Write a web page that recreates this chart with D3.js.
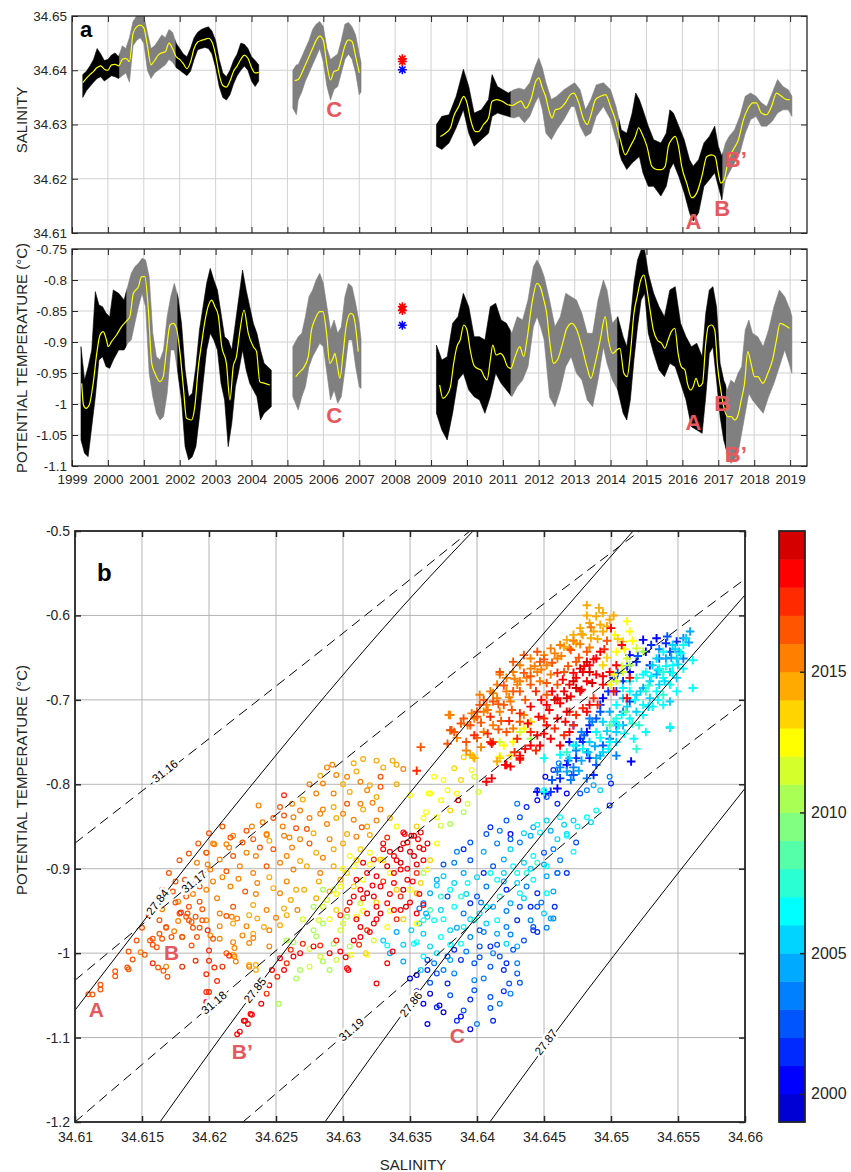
<!DOCTYPE html>
<html><head><meta charset="utf-8">
<script src="https://cdn.jsdelivr.net/npm/d3@7"></script>
<style>
body{margin:0;background:#fff;}
svg text{font-family:"Liberation Sans",Arial,Helvetica,sans-serif;}
</style></head><body>
<svg id="fig" width="851" height="1172"></svg>
<script>
// ===================== DATA =====================
const yearTicks = [1999,2000,2001,2002,2003,2004,2005,2006,2007,2008,2009,2010,2011,2012,2013,2014,2015,2016,2017,2018,2019];
const salTicks = [34.61,34.62,34.63,34.64,34.65];
const tmpTicks = [-1.1,-1.05,-1,-0.95,-0.9,-0.85,-0.8,-0.75];
const tsSalTicks = [34.61,34.615,34.62,34.625,34.63,34.635,34.64,34.645,34.65,34.655,34.66];
const tsTmpTicks = [-1.2,-1.1,-1,-0.9,-0.8,-0.7,-0.6,-0.5];
const cbTicks = [2000,2005,2010,2015];
const cbYears = [1999,2000,2001,2002,2003,2004,2005,2006,2007,2008,2009,2010,2011,2012,2013,2014,2015,2016,2017,2018,2019];

// salinity: smoothed (yellow) series per deployment section [year, S]
const salSmooth1 = [[1999.3,34.6377],[1999.4,34.6385],[1999.5,34.6392],[1999.6,34.6398],[1999.7,34.6405],[1999.8,34.6408],[1999.9,34.6402],[2000.0,34.6400],[2000.1,34.6410],[2000.2,34.6411],[2000.3,34.6408],[2000.4,34.6420],[2000.5,34.6422],[2000.6,34.6416],[2000.7,34.6468],[2000.8,34.6480],[2000.9,34.6483],[2001.0,34.6478],[2001.1,34.6445],[2001.2,34.6410],[2001.3,34.6418],[2001.4,34.6428],[2001.5,34.6432],[2001.6,34.6434],[2001.7,34.6450],[2001.8,34.6440],[2001.9,34.6425],[2002.0,34.6420],[2002.1,34.6412],[2002.2,34.6403],[2002.3,34.6415],[2002.4,34.6440],[2002.5,34.6452],[2002.6,34.6455],[2002.7,34.6457],[2002.8,34.6459],[2002.9,34.6452],[2003.0,34.6428],[2003.1,34.6392],[2003.2,34.6372],[2003.3,34.6369],[2003.4,34.6380],[2003.5,34.6398],[2003.6,34.6408],[2003.7,34.6420],[2003.8,34.6428],[2003.9,34.6422],[2004.0,34.6405],[2004.1,34.6395],[2004.2,34.6396]];
const salSmooth2 = [[2005.2,34.6381],[2005.3,34.6383],[2005.4,34.6395],[2005.5,34.6410],[2005.6,34.6425],[2005.7,34.6440],[2005.8,34.6455],[2005.9,34.6463],[2006.0,34.6455],[2006.1,34.6410],[2006.2,34.6382],[2006.3,34.6398],[2006.4,34.6400],[2006.5,34.6420],[2006.6,34.6445],[2006.7,34.6456],[2006.8,34.6453],[2006.9,34.6425],[2007.0,34.6395]];
const salSmooth3 = [[2009.26,34.6278],[2009.40,34.6284],[2009.54,34.6294],[2009.63,34.6315],[2009.77,34.6333],[2009.91,34.6352],[2010.00,34.6340],[2010.10,34.6309],[2010.23,34.6287],[2010.32,34.6287],[2010.46,34.6300],[2010.60,34.6312],[2010.70,34.6343],[2010.83,34.6346],[2010.98,34.6343],[2011.12,34.6337],[2011.26,34.6335],[2011.40,34.6340],[2011.50,34.6343],[2011.64,34.6330],[2011.78,34.6346],[2011.92,34.6380],[2012.00,34.6386],[2012.10,34.6367],[2012.19,34.6352],[2012.28,34.6327],[2012.37,34.6312],[2012.46,34.6327],[2012.60,34.6330],[2012.74,34.6340],[2012.88,34.6355],[2012.98,34.6358],[2013.11,34.6340],[2013.25,34.6309],[2013.35,34.6300],[2013.44,34.6315],[2013.58,34.6346],[2013.72,34.6352],[2013.86,34.6355],[2014.00,34.6333],[2014.13,34.6309],[2014.27,34.6272],[2014.41,34.6244],[2014.55,34.6260],[2014.69,34.6278],[2014.78,34.6294],[2014.87,34.6284],[2015.01,34.6260],[2015.15,34.6223],[2015.29,34.6217],[2015.43,34.6217],[2015.52,34.6223],[2015.61,34.6260],[2015.70,34.6272],[2015.80,34.6278],[2015.89,34.6260],[2015.98,34.6223],[2016.12,34.6192],[2016.26,34.6165],[2016.40,34.6174],[2016.54,34.6204],[2016.68,34.6241],[2016.81,34.6244],[2016.91,34.6241],[2017.00,34.6211],[2017.07,34.6192],[2017.16,34.6198],[2017.28,34.6235],[2017.42,34.6254],[2017.56,34.6272],[2017.70,34.6309],[2017.83,34.6330],[2017.97,34.6340],[2018.06,34.6340],[2018.20,34.6321],[2018.34,34.6318],[2018.48,34.6333],[2018.62,34.6358],[2018.76,34.6352],[2018.90,34.6346],[2018.99,34.6346]];
// salinity: raw-data envelope [year, max, min]
const salBand1 = [[1999.3,34.6392,34.6350],[1999.4,34.6398,34.6362],[1999.5,34.6408,34.6370],[1999.6,34.6420,34.6378],[1999.7,34.6440,34.6385],[1999.8,34.6430,34.6388],[1999.9,34.6418,34.6380],[2000.0,34.6420,34.6385],[2000.1,34.6428,34.6390],[2000.2,34.6432,34.6388],[2000.3,34.6425,34.6385],[2000.4,34.6445,34.6390],[2000.5,34.6440,34.6395],[2000.6,34.6460,34.6378],[2000.7,34.6490,34.6445],[2000.8,34.6500,34.6455],[2000.9,34.6500,34.6460],[2001.0,34.6500,34.6450],[2001.1,34.6470,34.6400],[2001.2,34.6440,34.6385],[2001.3,34.6445,34.6395],[2001.4,34.6455,34.6400],[2001.5,34.6465,34.6405],[2001.6,34.6460,34.6410],[2001.7,34.6475,34.6420],[2001.8,34.6470,34.6415],[2001.9,34.6450,34.6405],[2002.0,34.6440,34.6400],[2002.1,34.6430,34.6395],[2002.2,34.6425,34.6390],[2002.3,34.6440,34.6398],[2002.4,34.6460,34.6420],[2002.5,34.6470,34.6438],[2002.6,34.6475,34.6440],[2002.7,34.6478,34.6442],[2002.8,34.6480,34.6440],[2002.9,34.6472,34.6430],[2003.0,34.6455,34.6405],[2003.1,34.6420,34.6370],[2003.2,34.6395,34.6350],[2003.3,34.6388,34.6345],[2003.4,34.6400,34.6355],[2003.5,34.6418,34.6375],[2003.6,34.6430,34.6390],[2003.7,34.6450,34.6400],[2003.8,34.6448,34.6408],[2003.9,34.6440,34.6400],[2004.0,34.6425,34.6380],[2004.1,34.6418,34.6370],[2004.2,34.6410,34.6380]];
const salBand2 = [[2005.15,34.6400,34.6330],[2005.25,34.6410,34.6318],[2005.3,34.6410,34.6345],[2005.4,34.6425,34.6360],[2005.5,34.6440,34.6380],[2005.6,34.6455,34.6395],[2005.7,34.6475,34.6410],[2005.8,34.6485,34.6425],[2005.9,34.6490,34.6440],[2006.0,34.6480,34.6415],[2006.1,34.6440,34.6370],[2006.2,34.6420,34.6345],[2006.3,34.6425,34.6365],[2006.4,34.6430,34.6370],[2006.5,34.6455,34.6395],[2006.6,34.6485,34.6420],[2006.7,34.6488,34.6430],[2006.8,34.6480,34.6420],[2006.9,34.6465,34.6395],[2007.0,34.6430,34.6355],[2007.05,34.6415,34.6360]];
const salBand3 = [[2009.15,34.6300,34.6260],[2009.3,34.6315,34.6254],[2009.5,34.6318,34.6266],[2009.7,34.6352,34.6294],[2009.9,34.6402,34.6327],[2010.05,34.6370,34.6284],[2010.2,34.6321,34.6260],[2010.4,34.6327,34.6272],[2010.6,34.6346,34.6284],[2010.7,34.6392,34.6315],[2010.85,34.6370,34.6321],[2011.0,34.6364,34.6318],[2011.15,34.6358,34.6315],[2011.3,34.6364,34.6312],[2011.45,34.6367,34.6315],[2011.6,34.6364,34.6303],[2011.75,34.6377,34.6315],[2011.9,34.6407,34.6340],[2012.0,34.6423,34.6352],[2012.1,34.6404,34.6327],[2012.2,34.6377,34.6284],[2012.35,34.6346,34.6272],[2012.5,34.6352,34.6290],[2012.7,34.6364,34.6309],[2012.9,34.6373,34.6333],[2013.0,34.6377,34.6333],[2013.15,34.6364,34.6297],[2013.3,34.6327,34.6278],[2013.45,34.6346,34.6284],[2013.6,34.6373,34.6315],[2013.8,34.6377,34.6333],[2014.0,34.6364,34.6309],[2014.15,34.6333,34.6272],[2014.3,34.6290,34.6235],[2014.45,34.6284,34.6217],[2014.6,34.6321,34.6229],[2014.7,34.6358,34.6235],[2014.8,34.6346,34.6241],[2014.9,34.6327,34.6211],[2015.05,34.6297,34.6186],[2015.2,34.6272,34.6186],[2015.4,34.6266,34.6168],[2015.55,34.6284,34.6186],[2015.65,34.6327,34.6217],[2015.75,34.6321,34.6229],[2015.9,34.6297,34.6204],[2016.05,34.6272,34.6174],[2016.2,34.6235,34.6137],[2016.3,34.6223,34.6122],[2016.45,34.6235,34.6137],[2016.6,34.6266,34.6186],[2016.75,34.6278,34.6198],[2016.9,34.6297,34.6211],[2017.0,34.6260,34.6186],[2017.1,34.6241,34.6161],[2017.2,34.6266,34.6198],[2017.3,34.6278,34.6211],[2017.45,34.6290,34.6229],[2017.6,34.6315,34.6247],[2017.75,34.6352,34.6284],[2017.9,34.6358,34.6309],[2018.05,34.6352,34.6315],[2018.2,34.6340,34.6297],[2018.35,34.6333,34.6297],[2018.5,34.6358,34.6306],[2018.65,34.6383,34.6321],[2018.8,34.6370,34.6327],[2018.95,34.6364,34.6327],[2019.05,34.6352,34.6315]];
// which instrument recorded each stretch: [start, end, instrument id]
const salSegments = [[1999.25,2000.3,1],[2000.3,2001.9,2],[2001.9,2004.25,1],[2005.1,2007.1,2],[2009.1,2011.2,1],[2011.2,2014.25,2],[2014.25,2017.1,1],[2017.1,2019.1,2]];

// potential temperature
const tmpSmooth1 = [[1999.27,-0.9667],[1999.32,-1.0016],[1999.39,-1.007],[1999.48,-1.0016],[1999.59,-0.9667],[1999.69,-0.9183],[1999.78,-0.8887],[1999.87,-0.8833],[1999.96,-0.8968],[2000.01,-0.9075],[2000.10,-0.8995],[2000.24,-0.8887],[2000.38,-0.8753],[2000.52,-0.8661],[2000.61,-0.8591],[2000.71,-0.8215],[2000.85,-0.8107],[2000.94,-0.7946],[2001.03,-0.7946],[2001.12,-0.843],[2001.22,-0.9344],[2001.31,-0.9505],[2001.45,-0.964],[2001.54,-0.9559],[2001.63,-0.9129],[2001.73,-0.8726],[2001.82,-0.8699],[2001.91,-0.878],[2002.01,-0.9183],[2002.10,-0.972],[2002.19,-1.0231],[2002.33,-1.0258],[2002.42,-1.0043],[2002.52,-0.9398],[2002.61,-0.9021],[2002.70,-0.8672],[2002.79,-0.843],[2002.89,-0.8323],[2002.98,-0.843],[2003.07,-0.8564],[2003.17,-0.9075],[2003.30,-0.9344],[2003.40,-0.9935],[2003.49,-0.9398],[2003.58,-0.9236],[2003.68,-0.8806],[2003.79,-0.8484],[2003.91,-0.886],[2004.05,-0.9075],[2004.14,-0.9156],[2004.23,-0.964],[2004.37,-0.9667],[2004.51,-0.9693]];
const tmpSmooth2 = [[2005.23,-0.9559],[2005.35,-0.9478],[2005.44,-0.9425],[2005.58,-0.9236],[2005.67,-0.8806],[2005.76,-0.8645],[2005.90,-0.851],[2005.99,-0.851],[2006.09,-0.886],[2006.18,-0.9344],[2006.27,-0.9263],[2006.32,-0.9183],[2006.38,-0.9344],[2006.46,-0.9586],[2006.55,-0.9183],[2006.64,-0.8726],[2006.76,-0.8538],[2006.83,-0.8564],[2006.92,-0.886],[2006.97,-0.9156]];
const tmpSmooth3 = [[2009.24,-0.9693],[2009.33,-0.9908],[2009.44,-0.9855],[2009.54,-0.972],[2009.63,-0.9344],[2009.72,-0.9075],[2009.81,-0.8968],[2009.91,-0.8726],[2010.00,-0.8806],[2010.09,-0.9129],[2010.19,-0.9371],[2010.28,-0.9425],[2010.39,-0.9452],[2010.48,-0.9559],[2010.56,-0.9613],[2010.65,-0.929],[2010.72,-0.9048],[2010.81,-0.9209],[2010.93,-0.9183],[2011.02,-0.9236],[2011.13,-0.9398],[2011.22,-0.9425],[2011.34,-0.9236],[2011.47,-0.9075],[2011.58,-0.9236],[2011.67,-0.8968],[2011.81,-0.8376],[2011.95,-0.8054],[2012.04,-0.8107],[2012.13,-0.8296],[2012.22,-0.8538],[2012.31,-0.9021],[2012.41,-0.9344],[2012.52,-0.929],[2012.64,-0.9075],[2012.78,-0.878],[2012.92,-0.8699],[2013.06,-0.8806],[2013.20,-0.9075],[2013.34,-0.9398],[2013.45,-0.9586],[2013.57,-0.9344],[2013.71,-0.8968],[2013.85,-0.8591],[2013.94,-0.8968],[2014.06,-0.9183],[2014.17,-0.9129],[2014.26,-0.9102],[2014.37,-0.9505],[2014.46,-0.9559],[2014.56,-0.9129],[2014.65,-0.8538],[2014.74,-0.8269],[2014.84,-0.8],[2014.93,-0.7919],[2015.00,-0.8107],[2015.10,-0.8484],[2015.19,-0.8806],[2015.30,-0.8968],[2015.42,-0.9021],[2015.51,-0.9102],[2015.60,-0.8968],[2015.69,-0.8833],[2015.79,-0.878],[2015.88,-0.9183],[2015.97,-0.9398],[2016.07,-0.9452],[2016.14,-0.9667],[2016.23,-0.9774],[2016.30,-0.972],[2016.38,-0.9586],[2016.47,-0.972],[2016.56,-0.9667],[2016.65,-0.9021],[2016.72,-0.8753],[2016.81,-0.8726],[2016.90,-0.8806],[2016.98,-0.9398],[2017.07,-0.9774],[2017.15,-1.0043],[2017.27,-1.0204],[2017.36,-1.0204],[2017.46,-1.0258],[2017.55,-1.0177],[2017.64,-0.9935],[2017.73,-0.9667],[2017.82,-0.9156],[2017.91,-0.9344],[2018.01,-0.9559],[2018.10,-0.9559],[2018.24,-0.9667],[2018.38,-0.9505],[2018.51,-0.929],[2018.62,-0.8968],[2018.72,-0.8699],[2018.84,-0.8726],[2018.98,-0.878]];
const tmpBand1 = [[1999.25,-0.9075,-1.058],[1999.35,-0.9613,-1.0796],[1999.45,-0.9398,-1.0849],[1999.55,-0.9129,-1.0365],[1999.65,-0.8188,-0.9882],[1999.75,-0.8403,-0.929],[1999.85,-0.843,-0.9236],[1999.95,-0.8538,-0.9398],[2000.05,-0.8591,-0.9425],[2000.15,-0.8161,-0.929],[2000.3,-0.8215,-0.9129],[2000.45,-0.8323,-0.9129],[2000.55,-0.8107,-0.9021],[2000.65,-0.7892,-0.8968],[2000.75,-0.7785,-0.8699],[2000.85,-0.7731,-0.843],[2000.95,-0.7651,-0.8215],[2001.05,-0.7677,-0.843],[2001.15,-0.7946,-0.9505],[2001.25,-0.886,-0.9882],[2001.35,-0.9236,-1.015],[2001.45,-0.929,-1.0258],[2001.55,-0.9129,-1.0204],[2001.65,-0.8591,-0.9828],[2001.75,-0.8269,-0.9129],[2001.85,-0.8054,-0.9129],[2001.95,-0.8269,-0.9505],[2002.05,-0.8699,-0.9935],[2002.15,-0.9452,-1.0688],[2002.25,-0.9882,-1.0903],[2002.35,-0.9828,-1.0849],[2002.45,-0.9398,-1.0688],[2002.55,-0.8806,-1.0204],[2002.65,-0.843,-0.9667],[2002.75,-0.8054,-0.9129],[2002.85,-0.7812,-0.886],[2002.95,-0.8,-0.8968],[2003.05,-0.8161,-0.9129],[2003.15,-0.8538,-0.9667],[2003.25,-0.8914,-0.9935],[2003.35,-0.8968,-1.0688],[2003.45,-0.9129,-1.0312],[2003.55,-0.8699,-0.972],[2003.65,-0.8269,-0.9452],[2003.75,-0.7839,-0.9129],[2003.85,-0.8161,-0.9452],[2003.95,-0.843,-0.9667],[2004.05,-0.8699,-0.9774],[2004.15,-0.886,-0.9882],[2004.25,-0.9129,-1.0258],[2004.35,-0.9344,-1.015],[2004.45,-0.9398,-1.0097],[2004.55,-0.9452,-1.0043]];
const tmpBand2 = [[2005.15,-0.9075,-0.9882],[2005.3,-0.8914,-1.0097],[2005.4,-0.886,-0.9882],[2005.5,-0.8591,-0.972],[2005.6,-0.8269,-0.9398],[2005.7,-0.8161,-0.9236],[2005.8,-0.8,-0.9129],[2005.9,-0.7892,-0.9021],[2006.0,-0.8054,-0.9075],[2006.1,-0.843,-0.9505],[2006.2,-0.8806,-0.9935],[2006.3,-0.8645,-0.9774],[2006.4,-0.886,-0.9989],[2006.5,-0.8753,-0.9882],[2006.6,-0.8269,-0.9452],[2006.7,-0.8054,-0.8968],[2006.8,-0.8107,-0.8968],[2006.9,-0.8376,-0.9398],[2007.0,-0.8699,-0.972],[2007.05,-0.895,-0.975]];
const tmpBand3 = [[2009.15,-0.9048,-1.015],[2009.3,-0.929,-1.0419],[2009.45,-0.9236,-1.058],[2009.6,-0.8699,-1.015],[2009.75,-0.8591,-0.9613],[2009.9,-0.8215,-0.9505],[2010.05,-0.843,-0.9774],[2010.2,-0.8914,-0.9882],[2010.35,-0.8914,-0.9935],[2010.5,-0.8968,-1.015],[2010.65,-0.843,-0.9882],[2010.8,-0.8376,-0.9505],[2010.95,-0.8645,-0.9667],[2011.1,-0.8699,-0.9774],[2011.25,-0.886,-0.9882],[2011.4,-0.8591,-0.972],[2011.55,-0.8645,-0.9613],[2011.7,-0.8323,-0.9398],[2011.85,-0.7785,-0.8753],[2011.95,-0.7677,-0.8591],[2012.05,-0.7785,-0.8753],[2012.15,-0.7946,-0.8968],[2012.3,-0.8323,-0.9882],[2012.45,-0.8753,-1.0043],[2012.6,-0.8591,-0.9774],[2012.75,-0.8215,-0.9398],[2012.9,-0.8269,-0.9236],[2013.05,-0.8323,-0.9505],[2013.2,-0.8538,-0.9613],[2013.35,-0.886,-0.9935],[2013.5,-0.886,-1.0043],[2013.65,-0.8323,-0.9613],[2013.8,-0.8,-0.9075],[2013.9,-0.8161,-0.9344],[2014.05,-0.8699,-0.9613],[2014.2,-0.8591,-0.9774],[2014.35,-0.8914,-1.015],[2014.45,-0.9075,-1.0258],[2014.55,-0.8645,-0.9935],[2014.65,-0.8054,-0.929],[2014.75,-0.7677,-0.8753],[2014.85,-0.7516,-0.8323],[2014.95,-0.7516,-0.8215],[2015.05,-0.7892,-0.886],[2015.2,-0.8215,-0.9183],[2015.35,-0.843,-0.9452],[2015.5,-0.8591,-0.9559],[2015.65,-0.8161,-0.9344],[2015.8,-0.8107,-0.9398],[2015.95,-0.8699,-0.9667],[2016.1,-0.8914,-0.9935],[2016.25,-0.9075,-1.0365],[2016.4,-0.9021,-1.0419],[2016.55,-0.9236,-1.0473],[2016.65,-0.8538,-0.9882],[2016.75,-0.8161,-0.9183],[2016.85,-0.8107,-0.9075],[2016.95,-0.843,-0.9613],[2017.05,-0.9344,-1.0204],[2017.15,-0.9613,-1.058],[2017.25,-0.9774,-1.0796],[2017.35,-0.9613,-1.0957],[2017.45,-0.9667,-1.0903],[2017.55,-0.9505,-1.0796],[2017.65,-0.9398,-1.0473],[2017.75,-0.8806,-1.015],[2017.85,-0.8645,-0.9828],[2017.95,-0.886,-0.9935],[2018.1,-0.8914,-1.0043],[2018.25,-0.9075,-1.015],[2018.4,-0.8806,-0.9882],[2018.55,-0.843,-0.9667],[2018.7,-0.8161,-0.9398],[2018.85,-0.8269,-0.9129],[2019.0,-0.8484,-0.9398],[2019.05,-0.8591,-0.9505]];
const tmpSegments = [[1999.2,2000.5,1],[2000.5,2001.95,2],[2001.95,2004.6,1],[2005.1,2007.1,2],[2009.1,2011.2,1],[2011.2,2014.2,2],[2014.2,2017.2,1],[2017.2,2019.1,2]];

// 2008 CTD casts
const ctdYear = 2008.2;
const ctdSalRed = [34.6416,34.6421], ctdSalBlue = [34.6401];
const ctdTmpRed = [-0.849,-0.843], ctdTmpBlue = [-0.873];

// event labels [text, x value, y value]
const salEvents = [["A",2016.31,34.6121],["B",2017.11,34.6146],["B\u2019",2017.18,34.6236],["C",2006.30,34.6328]];
const tmpEvents = [["A",2016.31,-1.0298],["B",2017.11,-0.9984],["B\u2019",2017.18,-1.0818],["C",2006.30,-1.0186]];
const tsEvents = [["A",34.6116,-1.0664],["B",34.6172,-0.9995],["B\u2019",34.6217,-1.117],["C",34.63853,-1.0972]];

// isopycnals in theta-S space (sigma0 solid, sigma2 dashed)
const sigma0Levels = ["27.84","27.85","27.86","27.87"];
const sigma0Lines = [
 [[34.61,-1.0676],[34.62106,-0.8425],[34.63648,-0.5542],[34.63971,-0.5]],
 [[34.61634,-1.2],[34.62244,-1.0656],[34.63648,-0.7812],[34.65165,-0.5]],
 [[34.62865,-1.2],[34.634,-1.0815],[34.64693,-0.8188],[34.66,-0.5758]],
 [[34.64096,-1.2],[34.64432,-1.1269],[34.66,-0.8049]]];
const sigma0LabelAt = [[34.61615,-0.9396],[34.62343,-1.0439],[34.63507,-1.0605],[34.64514,-1.1055]];
const sigma2Levels = ["31.16","31.17","31.18","31.19"];
const sigma2Lines = [
 [[34.61,-0.8697],[34.63648,-0.5385],[34.63947,-0.5]],
 [[34.61,-1.0321],[34.6233,-0.8582],[34.63648,-0.6904],[34.65215,-0.5]],
 [[34.61,-1.2],[34.62356,-1.0163],[34.63997,-0.799],[34.66,-0.5569]],
 [[34.62253,-1.2],[34.634,-1.0439],[34.65041,-0.8188],[34.66,-0.7023]]];
const sigma2LabelAt = [[34.61671,-0.7844],[34.61888,-0.9153],[34.62037,-1.0587],[34.63063,-1.0907]];

// theta-S points, lower instrument (circles): [S, theta, year]
const circlePts = [
[34.6288,-0.780,2015],[34.6292,-0.777,2015],[34.6308,-0.775,2014],[34.6315,-0.770,2014],[34.6325,-0.772,2014],[34.6337,-0.772,2014],[34.6340,-0.777,2014],[34.6345,-0.782,2015],[34.6328,-0.791,2016],[34.6320,-0.801,2014],[34.6313,-0.797,2015],[34.6303,-0.791,2015],[34.6295,-0.789,2015],[34.6285,-0.799,2015],[34.6280,-0.811,2015],[34.6293,-0.811,2015],[34.6305,-0.809,2014],[34.6318,-0.807,2015],[34.6328,-0.803,2016],[34.6325,-0.815,2014],[34.6313,-0.823,2015],[34.6303,-0.823,2016],[34.6293,-0.827,2014],[34.6283,-0.835,2015],[34.6268,-0.831,2015],[34.6256,-0.813,2017],[34.6237,-0.825,2015],[34.6253,-0.827,2016],[34.6256,-0.837,2016],[34.6263,-0.839,2015],[34.6273,-0.853,2016],[34.6288,-0.847,2015],[34.6300,-0.835,2015],[34.6314,-0.851,2016],[34.6325,-0.843,2015],[34.6320,-0.860,2014],[34.6228,-0.855,2016],[34.6216,-0.863,2016],[34.6243,-0.859,2015],[34.6260,-0.863,2015],[34.6303,-0.859,2014],[34.6333,-0.863,2017],[34.6346,-0.859,2018],[34.6351,-0.861,2019],[34.6356,-0.865,2018],[34.6350,-0.813,2012],[34.6364,-0.811,2012],[34.6362,-0.833,2012],
[34.6203,-0.870,2015],[34.6213,-0.871,2015],[34.6218,-0.861,2015],[34.6233,-0.865,2016],[34.6243,-0.860,2015],[34.6256,-0.861,2015],[34.6268,-0.865,2015],[34.6278,-0.858,2014],[34.6290,-0.865,2015],[34.6198,-0.881,2016],[34.6208,-0.889,2015],[34.6218,-0.885,2016],[34.6228,-0.881,2015],[34.6238,-0.875,2016],[34.6248,-0.877,2016],[34.6258,-0.885,2015],[34.6268,-0.891,2014],[34.6280,-0.881,2014],[34.6293,-0.877,2014],[34.6191,-0.893,2015],[34.6201,-0.901,2015],[34.6213,-0.903,2016],[34.6223,-0.897,2015],[34.6233,-0.905,2015],[34.6243,-0.897,2016],[34.6253,-0.893,2015],[34.6263,-0.901,2015],[34.6273,-0.897,2014],[34.6283,-0.905,2015],[34.6293,-0.897,2014],[34.6298,-0.913,2014],[34.6182,-0.913,2016],[34.6193,-0.921,2016],[34.6203,-0.915,2015],[34.6216,-0.921,2015],[34.6227,-0.927,2016],[34.6236,-0.917,2015],[34.6248,-0.923,2014],[34.6253,-0.929,2015],[34.6261,-0.937,2014],[34.6271,-0.925,2014],[34.6280,-0.935,2014],[34.6290,-0.927,2014],[34.6173,-0.927,2016],[34.6183,-0.933,2016],[34.6193,-0.939,2016],[34.6206,-0.935,2015],[34.6218,-0.945,2016],[34.6233,-0.943,2014],[34.6243,-0.949,2015],[34.6256,-0.947,2014],[34.6266,-0.949,2015],[34.6163,-0.961,2016],[34.6168,-0.969,2016],[34.6178,-0.953,2016],[34.6187,-0.963,2016],[34.6198,-0.961,2015],[34.6208,-0.953,2015],[34.6218,-0.965,2014],[34.6236,-0.959,2014],[34.6241,-0.969,2014],[34.6245,-0.973,2015],[34.6253,-0.967,2014],[34.6156,-0.985,2016],[34.6161,-0.993,2016],[34.6180,-0.981,2016],[34.6191,-0.981,2016],[34.6201,-0.979,2015],[34.6218,-0.987,2015],[34.6233,-0.977,2014],[34.6245,-0.992,2015],[34.6218,-1.002,2014],[34.6230,-1.014,2014],[34.6235,-1.014,2014],[34.6213,-1.000,2016],[34.6175,-0.915,2016],[34.6177,-0.939,2015],[34.6198,-0.881,2015],[34.6204,-0.871,2015],[34.6199,-0.895,2015],
[34.6215,-0.875,2015],[34.6225,-0.869,2016],[34.6235,-0.885,2015],[34.6245,-0.867,2014],[34.6262,-0.875,2015],[34.6275,-0.870,2016],[34.6285,-0.887,2015],[34.6300,-0.870,2014],[34.6310,-0.862,2015],[34.6318,-0.850,2014],[34.6335,-0.840,2014],[34.6328,-0.830,2015],[34.6340,-0.800,2014],[34.6270,-0.818,2014],[34.6262,-0.823,2015],[34.6248,-0.840,2016],[34.6240,-0.845,2015],[34.6232,-0.850,2015],[34.6210,-0.850,2016],[34.6200,-0.858,2016],[34.6192,-0.870,2016],[34.6185,-0.882,2016],[34.6178,-0.890,2016],[34.6170,-0.905,2016],[34.6165,-0.925,2016],[34.6160,-0.940,2016],[34.6155,-0.955,2016],[34.6165,-0.948,2015],[34.6175,-0.940,2016],[34.6188,-0.930,2015],[34.6198,-0.925,2015],[34.6210,-0.910,2015],[34.6222,-0.912,2015],[34.6235,-0.930,2015],[34.6245,-0.910,2014],[34.6258,-0.915,2015],[34.6265,-0.925,2014],[34.6282,-0.915,2014],[34.6250,-0.958,2015],[34.6258,-0.955,2014],[34.6230,-0.955,2014],[34.6228,-0.968,2015],[34.6208,-0.968,2015],[34.6195,-0.948,2016],[34.6185,-0.945,2016],[34.6150,-0.970,2016],[34.6146,-0.985,2016],[34.6140,-0.998,2016],[34.6152,-1.002,2016],[34.6285,-0.830,2015],[34.6275,-0.840,2015],[34.6265,-0.852,2016],[34.6255,-0.850,2015],[34.6295,-0.840,2014],[34.6308,-0.842,2015],[34.6315,-0.830,2014],[34.6322,-0.822,2015],[34.6300,-0.800,2014],[34.6275,-0.800,2015],[34.6283,-0.790,2014],[34.6310,-0.785,2014],[34.6330,-0.780,2014],
[34.6110,-1.0486,2016],[34.6113,-1.049,2016],[34.6119,-1.0375,2016],[34.6119,-1.043,2016],[34.6130,-1.0215,2016],[34.6130,-1.0275,2016],[34.6139,-1.017,2016],[34.6140,-1.019,2016],[34.6143,-1.0075,2016],[34.6149,-0.999,2015],[34.6158,-0.983,2016],[34.6158,-0.990,2016],[34.6163,-0.977,2016],[34.6165,-0.983,2016],[34.6168,-0.970,2016],[34.6172,-0.981,2016],[34.6174,-0.974,2015],[34.6177,-0.962,2015],[34.6180,-0.981,2016],[34.6184,-0.953,2016],[34.6187,-0.991,2016],[34.6158,-1.012,2017],[34.6162,-1.017,2016],[34.6166,-1.021,2016],[34.6169,-1.028,2016],[34.6168,-1.016,2015],[34.6180,-1.016,2017],[34.6190,-1.009,2017],[34.6198,-1.025,2017],[34.6200,-1.009,2017],[34.6200,-0.997,2017],[34.6204,-1.017,2017],[34.6206,-1.033,2017],[34.6210,-1.016,2017],[34.6200,-1.046,2017],[34.6200,-1.061,2018],[34.6215,-1.003,2017],[34.6219,-1.004,2015],[34.6220,-1.010,2015],[34.6221,-1.096,2018],[34.6223,-1.093,2018],[34.6227,-1.080,2018],[34.6229,-1.084,2018],[34.6232,-1.073,2018],[34.6230,-1.016,2015],[34.6235,-1.020,2014],[34.6230,-0.988,2015],[34.6233,-0.982,2015],[34.6219,-0.994,2015],[34.6225,-0.979,2015],[34.6217,-0.957,2015],[34.6221,-0.959,2015],[34.6213,-0.956,2016],[34.6208,-0.983,2015],[34.6203,-0.983,2016],[34.6199,-0.973,2017],[34.6195,-0.961,2016],[34.6193,-0.970,2016],[34.6190,-0.957,2016],[34.6188,-0.970,2016],[34.6185,-0.961,2016],[34.6183,-0.957,2016],[34.6179,-0.952,2017],
[34.6198,-1.046,2017],[34.6198,-1.058,2018],[34.6226,-1.080,2018],[34.6231,-1.072,2018],[34.6239,-1.060,2018],[34.6243,-1.048,2017],[34.6245,-1.038,2018],[34.6251,-1.028,2017],[34.6247,-1.020,2018],[34.6256,-1.020,2018],[34.6258,-1.012,2017],[34.6263,-1.004,2018],[34.6253,-1.006,2018],[34.6261,-0.996,2017],[34.6268,-1.000,2018],[34.6270,-0.989,2017],[34.6278,-0.992,2018],[34.6283,-0.991,2017],
[34.6252,-1.060,2010],[34.6265,-1.030,2010],[34.6268,-1.020,2010],[34.6275,-1.016,2011],[34.6290,-1.020,2010],[34.6283,-1.004,2011],[34.6278,-0.973,2010],[34.6285,-0.965,2010],[34.6293,-0.989,2010],[34.6298,-0.973,2011],[34.6305,-0.992,2010],[34.6293,-0.925,2010],[34.6288,-0.937,2011],[34.6278,-0.945,2010],[34.6282,-0.961,2011],[34.6285,-0.925,2010],[34.6303,-0.957,2010],[34.6313,-0.941,2011],[34.6323,-0.985,2011],[34.6360,-0.905,2010],[34.6263,-0.987,2010],[34.6258,-0.985,2010],[34.6280,-0.980,2010],[34.6270,-0.960,2011],[34.6275,-0.995,2011],[34.6285,-1.010,2010],[34.6295,-1.008,2011],
[34.6305,-0.885,2012],[34.6313,-0.877,2013],[34.6320,-0.881,2012],[34.6328,-0.889,2013],[34.6308,-0.897,2012],[34.6303,-0.905,2013],[34.6298,-0.921,2012],[34.6308,-0.921,2013],[34.6315,-0.913,2012],[34.6335,-0.905,2012],[34.6340,-0.925,2013],[34.6350,-0.925,2012],[34.6358,-0.917,2013],[34.6363,-0.901,2012],[34.6355,-0.929,2014],[34.6295,-0.949,2013],[34.6310,-0.957,2012],[34.6333,-0.969,2012],[34.6318,-1.002,2012],[34.6306,-1.002,2012],[34.6317,-1.000,2013],[34.6300,-0.900,2012],[34.6310,-0.890,2013],[34.6320,-0.895,2012],[34.6330,-0.890,2013],[34.6295,-0.930,2012],[34.6285,-0.945,2011],[34.6290,-0.960,2012],[34.6300,-0.965,2011],[34.6315,-0.950,2012],[34.6325,-0.940,2013],[34.6335,-0.950,2012],[34.6345,-0.960,2013],[34.6355,-0.965,2012],[34.6365,-0.890,2013],[34.6370,-0.870,2012],[34.6355,-0.850,2013],[34.6360,-0.840,2012],[34.6340,-0.850,2012],
[34.6303,-1.018,2018],[34.6304,-1.020,2018],[34.6298,-0.998,2018],[34.6325,-1.036,2018],[34.6333,-1.012,2018],[34.6337,-0.998,2018],[34.6343,-0.949,2018],[34.6355,-0.953,2018],[34.6360,-0.943,2018],[34.6347,-0.945,2019],[34.6308,-0.985,2018],[34.6313,-0.981,2018],[34.6318,-0.973,2017],[34.6313,-0.969,2018],[34.6323,-0.965,2018],[34.6328,-0.953,2019],[34.6318,-0.953,2018],[34.6325,-0.945,2018],[34.6333,-0.941,2018],[34.6338,-0.949,2018],[34.6343,-0.933,2017],[34.6323,-0.933,2018],[34.6318,-0.929,2019],[34.6313,-0.925,2018],[34.6328,-0.921,2018],[34.6338,-0.917,2018],[34.6348,-0.913,2018],[34.6355,-0.905,2017],[34.6343,-0.901,2018],[34.6333,-0.897,2019],[34.6325,-0.909,2018],[34.6318,-0.905,2018],[34.6310,-0.913,2018],[34.6308,-0.933,2018],[34.6303,-0.949,2017],[34.6338,-0.885,2018],[34.6343,-0.877,2019],[34.6348,-0.869,2018],[34.6353,-0.861,2019],[34.6358,-0.857,2018],[34.6345,-0.857,2018],[34.6330,-0.877,2018],[34.6323,-0.889,2017],[34.6315,-0.893,2018],[34.6353,-0.885,2019],[34.6360,-0.877,2018],[34.6343,-0.893,2019],
[34.6330,-0.870,2018],[34.6335,-0.880,2018],[34.6340,-0.890,2018],[34.6345,-0.870,2018],[34.6350,-0.880,2019],[34.6355,-0.895,2018],[34.6348,-0.900,2018],[34.6338,-0.905,2018],[34.6330,-0.915,2017],[34.6322,-0.920,2018],[34.6315,-0.935,2018],[34.6325,-0.960,2018],[34.6335,-0.930,2018],[34.6345,-0.925,2019],[34.6352,-0.915,2018],[34.6360,-0.890,2018],[34.6363,-0.870,2019],[34.6357,-0.875,2018],[34.6320,-0.975,2018],[34.6312,-0.990,2017],[34.6302,-1.005,2018],[34.6295,-0.985,2017],[34.6290,-1.000,2018],[34.6310,-0.960,2018],[34.6305,-0.940,2018],[34.6298,-0.955,2017],[34.6340,-0.960,2017],[34.6350,-0.940,2018],[34.6357,-0.930,2018],
[34.6368,-0.791,2012],[34.6375,-0.795,2012],[34.6383,-0.781,2013],[34.6390,-0.768,2013],[34.6396,-0.783,2012],[34.6388,-0.795,2013],[34.6378,-0.807,2012],[34.6385,-0.811,2012],[34.6393,-0.823,2011],[34.6373,-0.819,2012],[34.6365,-0.811,2012],[34.6380,-0.831,2013],[34.6370,-0.839,2012],[34.6390,-0.833,2010],[34.6401,-0.809,2011],[34.6398,-0.791,2011],[34.6386,-0.819,2019],[34.6373,-0.849,2011],[34.6380,-0.847,2010],
[34.6457,-0.783,2001],[34.6461,-0.775,2003],[34.6451,-0.791,2000],[34.6469,-0.787,2002],[34.6499,-0.791,2003],[34.6500,-0.799,2001],[34.6487,-0.801,2004],[34.6492,-0.807,2005],[34.6477,-0.811,2002],[34.6467,-0.811,2000],[34.6482,-0.807,2003],[34.6460,-0.823,2001],[34.6452,-0.815,2002],[34.6445,-0.819,2000],[34.6437,-0.827,2001],[34.6430,-0.823,2003],[34.6432,-0.839,2002],[34.6422,-0.843,2002],[34.6417,-0.855,2003],[34.6425,-0.859,2000],[34.6410,-0.851,2001],[34.6407,-0.859,2002],[34.6442,-0.851,2004],[34.6452,-0.843,2005],[34.6462,-0.839,2006],[34.6472,-0.843,2005],[34.6482,-0.839,2006],[34.6467,-0.859,2005],[34.6499,-0.825,2001],[34.6489,-0.831,2006],[34.6445,-0.807,2002],[34.6450,-0.807,2006],
[34.6390,-0.877,2001],[34.6395,-0.869,2002],[34.6383,-0.893,2003],[34.6370,-0.913,2004],[34.6375,-0.909,2005],[34.6365,-0.929,2004],[34.6360,-0.941,2003],[34.6363,-0.957,2005],[34.6368,-0.961,2006],[34.6373,-0.949,2005],[34.6378,-0.933,2002],[34.6383,-0.945,2006],[34.6390,-0.953,2003],[34.6395,-0.941,2001],[34.6400,-0.933,2002],[34.6407,-0.921,2003],[34.6405,-0.905,2001],[34.6412,-0.897,2002],[34.6420,-0.889,2004],[34.6425,-0.877,2005],[34.6432,-0.869,2003],[34.6440,-0.861,2004],[34.6447,-0.857,2006],[34.6460,-0.865,2005],[34.6467,-0.861,2006],[34.6474,-0.869,2002],[34.6420,-0.905,2005],[34.6427,-0.897,2006],[34.6435,-0.893,2005],[34.6442,-0.885,2006],[34.6450,-0.881,2002],[34.6457,-0.877,2003],[34.6415,-0.913,2006],[34.6422,-0.925,2001],[34.6430,-0.917,2005],[34.6437,-0.921,2003],[34.6445,-0.929,2001],[34.6452,-0.909,2004],[34.6460,-0.905,2003],[34.6417,-0.933,2007],[34.6425,-0.941,2004],[34.6432,-0.945,2002],[34.6440,-0.945,2001],[34.6430,-0.961,2001],[34.6422,-0.969,2003],[34.6415,-0.961,2006],[34.6407,-0.965,2005],[34.6402,-0.973,2002],[34.6395,-0.981,2003],[34.6388,-0.989,2006],[34.6383,-0.996,2001],[34.6378,-1.004,2002],[34.6368,-1.012,2003],[34.6363,-1.020,2001],[34.6370,-1.024,2002],[34.6378,-1.036,2001],[34.6365,-1.048,1999],[34.6370,-1.064,2001],[34.6363,-1.084,2000],[34.6385,-1.080,2001],[34.6390,-1.068,2002],[34.6398,-1.044,2002],[34.6400,-1.084,2003],[34.6410,-1.052,2002],[34.6417,-1.060,2003],[34.6424,-1.036,2002],[34.6425,-1.048,2003],[34.6412,-1.080,2001],[34.6430,-1.012,2003],[34.6430,-1.024,2002],[34.6422,-1.012,2001],[34.6410,-1.016,2002],[34.6398,-1.032,2003],[34.6398,-1.012,2002],[34.6388,-1.008,2001],[34.6380,-1.008,2004],[34.6383,-1.024,2003],[34.6402,-0.992,2002],[34.6412,-1.000,2003],[34.6417,-1.004,2002],[34.6427,-0.996,2002],[34.6430,-0.992,2004],[34.6410,-0.992,2001],[34.6422,-0.989,2005],[34.6415,-0.977,2004],[34.6442,-0.969,2002],[34.6440,-0.961,2003],[34.6450,-0.953,2005],[34.6455,-0.959,2004],[34.6445,-0.945,2002],[34.6452,-0.929,2006],[34.6457,-0.927,2004],[34.6460,-0.905,2002],[34.6442,-0.913,2006],[34.6437,-0.905,2007],[34.6432,-0.929,2006],[34.6407,-0.945,2006],[34.6402,-0.953,2005],[34.6398,-0.961,2007],[34.6390,-0.969,2006],[34.6380,-0.973,2005],[34.6373,-0.981,2006],[34.6365,-0.992,2005],[34.6360,-1.004,2006],[34.6358,-1.020,2005],[34.6388,-0.933,2007],[34.6393,-0.917,2006],[34.6383,-0.917,2005],[34.6373,-0.933,2007],[34.6365,-0.949,2008],[34.6360,-0.961,2007],[34.6445,-0.893,2007],[34.6452,-0.897,2006],[34.6467,-0.905,2001],[34.6457,-0.959,2003],[34.6442,-0.973,2001],
[34.6357,-0.947,2003],[34.6362,-0.953,2004],[34.6360,-0.977,2005],[34.6355,-0.987,2006],[34.6355,-1.026,1999],[34.6363,-1.008,2001],[34.6333,-0.991,2006],[34.6353,-0.989,2006],[34.6351,-0.973,2005],[34.6357,-0.965,2005],[34.6372,-1.062,1999],[34.6395,-1.090,2000],
[34.6385,-0.880,2003],[34.6395,-0.890,2002],[34.6405,-0.880,2004],[34.6415,-0.870,2003],[34.6425,-0.865,2002],[34.6435,-0.858,2005],[34.6445,-0.848,2006],[34.6455,-0.855,2004],[34.6465,-0.848,2005],[34.6475,-0.850,2006],[34.6485,-0.845,2005],[34.6375,-0.895,2002],[34.6390,-0.905,2004],[34.6400,-0.910,2005],[34.6410,-0.905,2006],[34.6420,-0.915,2004],[34.6430,-0.905,2006],[34.6440,-0.900,2005],[34.6450,-0.895,2004],[34.6462,-0.890,2003],[34.6472,-0.880,2006],[34.6370,-0.920,2005],[34.6380,-0.925,2006],[34.6392,-0.930,2005],[34.6403,-0.940,2003],[34.6412,-0.945,2004],[34.6422,-0.950,2003],[34.6435,-0.935,2005],[34.6448,-0.940,2003],[34.6458,-0.945,2001],[34.6375,-0.960,2006],[34.6385,-0.970,2004],[34.6395,-0.960,2005],[34.6405,-0.975,2003],[34.6415,-0.990,2002],[34.6425,-0.978,2003],[34.6435,-0.985,2002],[34.6445,-0.975,2001],[34.6452,-0.970,2003],[34.6370,-1.000,2005],[34.6380,-0.990,2006],[34.6392,-0.998,2003],[34.6402,-1.005,2002],[34.6420,-1.020,2001],[34.6432,-1.035,2002],[34.6405,-1.030,2003],[34.6395,-1.055,2001],[34.6380,-1.050,2002],[34.6375,-1.020,2003],[34.6410,-1.065,2002],[34.6420,-1.045,2001],[34.6365,-1.035,2002],[34.6388,-1.075,2000],[34.6375,-1.070,1999],[34.6355,-1.045,2000],[34.6350,-1.030,1999],[34.6360,-1.060,2000],[34.6340,-0.975,2004],[34.6345,-0.990,2005],[34.6335,-1.000,2004],[34.6330,-0.985,2005],[34.6345,-1.010,2004]];

// theta-S points, upper instrument (plus signs): [S, theta, year]
const plusPts = [
[34.6482,-0.588,2014],[34.6491,-0.591,2014],[34.6482,-0.600,2014],[34.6489,-0.601,2014],[34.6494,-0.597,2014],[34.6499,-0.605,2014],[34.6492,-0.611,2014],[34.6484,-0.609,2014],[34.6477,-0.615,2014],[34.6472,-0.623,2014],[34.6479,-0.623,2014],[34.6487,-0.619,2014],[34.6494,-0.619,2014],[34.6474,-0.633,2014],[34.6467,-0.629,2014],
[34.6462,-0.635,2015],[34.6469,-0.639,2015],[34.6455,-0.639,2015],[34.6450,-0.647,2015],[34.6440,-0.651,2015],[34.6432,-0.659,2015],[34.6427,-0.667,2015],[34.6422,-0.674,2015],[34.6417,-0.670,2015],[34.6415,-0.682,2015],[34.6410,-0.690,2015],[34.6402,-0.694,2015],[34.6407,-0.706,2015],[34.6415,-0.698,2015],[34.6422,-0.690,2015],[34.6430,-0.682,2015],[34.6437,-0.674,2015],[34.6445,-0.667,2015],[34.6452,-0.659,2015],[34.6460,-0.651,2015],[34.6440,-0.663,2015],[34.6432,-0.678,2015],[34.6425,-0.702,2015],[34.6417,-0.714,2015],[34.6412,-0.730,2015],[34.6405,-0.714,2015],[34.6398,-0.722,2015],[34.6393,-0.730,2015],[34.6380,-0.718,2015],[34.6405,-0.738,2015],[34.6427,-0.734,2015],[34.6435,-0.718,2015],[34.6447,-0.678,2015],[34.6455,-0.670,2015],[34.6379,-0.718,2015],[34.6392,-0.760,2015],[34.6403,-0.756,2015],
[34.6427,-0.655,2016],[34.6417,-0.667,2016],[34.6435,-0.647,2016],[34.6445,-0.643,2016],[34.6447,-0.655,2016],[34.6440,-0.682,2016],[34.6427,-0.690,2016],[34.6420,-0.706,2016],[34.6412,-0.702,2016],[34.6402,-0.706,2016],[34.6400,-0.714,2016],[34.6395,-0.730,2016],[34.6390,-0.722,2016],[34.6380,-0.736,2016],[34.6378,-0.752,2016],[34.6383,-0.738,2016],[34.6412,-0.750,2016],[34.6422,-0.738,2016],[34.6432,-0.726,2016],[34.6452,-0.694,2016],[34.6460,-0.682,2016],[34.6465,-0.667,2016],[34.6474,-0.655,2016],[34.6482,-0.643,2016],[34.6358,-0.756,2016],[34.6381,-0.736,2016],
[34.6398,-0.742,2017],[34.6410,-0.750,2017],[34.6430,-0.746,2017],[34.6440,-0.738,2017],[34.6450,-0.722,2017],[34.6469,-0.714,2017],[34.6465,-0.742,2017],[34.6472,-0.730,2017],[34.6479,-0.710,2017],[34.6487,-0.698,2017],[34.6355,-0.784,2017],[34.6432,-0.771,2017],
[34.6452,-0.706,2018],[34.6460,-0.698,2018],[34.6465,-0.690,2018],[34.6469,-0.682,2018],[34.6474,-0.674,2018],[34.6479,-0.667,2018],[34.6484,-0.659,2018],[34.6489,-0.651,2018],[34.6492,-0.643,2018],[34.6482,-0.678,2018],[34.6477,-0.690,2018],[34.6467,-0.714,2018],[34.6460,-0.722,2018],[34.6452,-0.730,2018],[34.6445,-0.742,2018],[34.6440,-0.754,2018],[34.6432,-0.766,2018],[34.6422,-0.777,2018],[34.6432,-0.769,2018],[34.6447,-0.754,2018],[34.6455,-0.746,2018],[34.6469,-0.738,2018],[34.6462,-0.754,2018],[34.6489,-0.670,2018],[34.6494,-0.682,2018],[34.6499,-0.667,2018],[34.6504,-0.659,2018],[34.6484,-0.706,2018],[34.6502,-0.690,2018],[34.6512,-0.698,2018],[34.6514,-0.674,2018],[34.6500,-0.615,2018],[34.6508,-0.635,2018],[34.6411,-0.752,2018],[34.6421,-0.777,2018],[34.6425,-0.779,2018],[34.6411,-0.793,2018],[34.6407,-0.797,2018],
[34.6477,-0.663,2019],[34.6484,-0.667,2019],[34.6482,-0.655,2019],[34.6472,-0.678,2019],[34.6467,-0.698,2019],
[34.6503,-0.623,2012],[34.6512,-0.607,2012],[34.6514,-0.619,2012],[34.6509,-0.631,2013],[34.6504,-0.643,2012],[34.6512,-0.651,2011],[34.6494,-0.659,2013],[34.6499,-0.682,2012],[34.6440,-0.726,2013],[34.6435,-0.734,2012],[34.6427,-0.750,2012],[34.6425,-0.766,2013],[34.6417,-0.769,2013],[34.6420,-0.754,2012],[34.6415,-0.773,2014],[34.6398,-0.769,2014],[34.6395,-0.765,2014],[34.6397,-0.767,2013],[34.6417,-0.767,2012],[34.6505,-0.628,2013],[34.6510,-0.640,2012],[34.6516,-0.630,2012],[34.6497,-0.650,2013],[34.6502,-0.670,2012],[34.6508,-0.660,2011],
[34.6519,-0.639,2011],[34.6514,-0.659,2010],[34.6509,-0.667,2011],[34.6524,-0.643,2010],[34.6504,-0.678,2011],[34.6432,-0.738,2011],[34.6440,-0.746,2010],[34.6417,-0.750,2011],
[34.6405,-0.700,2016],[34.6412,-0.692,2015],[34.6420,-0.683,2016],[34.6428,-0.675,2015],[34.6435,-0.668,2016],[34.6443,-0.660,2015],[34.6450,-0.652,2016],[34.6458,-0.645,2015],[34.6465,-0.637,2014],[34.6472,-0.630,2015],[34.6478,-0.622,2014],[34.6485,-0.614,2015],[34.6400,-0.720,2016],[34.6408,-0.712,2015],[34.6416,-0.705,2016],[34.6424,-0.697,2015],[34.6432,-0.690,2016],[34.6440,-0.672,2016],[34.6448,-0.664,2015],[34.6456,-0.656,2016],[34.6463,-0.648,2015],[34.6470,-0.641,2016],[34.6477,-0.634,2015],[34.6485,-0.627,2014],[34.6388,-0.728,2016],[34.6396,-0.716,2015],[34.6403,-0.727,2016],[34.6410,-0.720,2017],[34.6418,-0.725,2016],[34.6426,-0.712,2016],[34.6436,-0.700,2016],[34.6444,-0.690,2017],[34.6452,-0.680,2016],[34.6460,-0.668,2017],[34.6468,-0.660,2016],[34.6476,-0.650,2016],[34.6484,-0.638,2015],[34.6490,-0.628,2014],[34.6497,-0.613,2014],[34.6502,-0.600,2014],[34.6385,-0.745,2015],[34.6392,-0.750,2016],[34.6400,-0.745,2016],[34.6408,-0.740,2017],[34.6416,-0.735,2016],[34.6424,-0.725,2017],[34.6432,-0.716,2017],[34.6440,-0.708,2018],[34.6448,-0.700,2018],[34.6456,-0.690,2018],[34.6464,-0.676,2018],[34.6472,-0.668,2018],[34.6480,-0.660,2018],[34.6487,-0.652,2018],[34.6495,-0.640,2017],[34.6497,-0.630,2016],[34.6438,-0.728,2018],[34.6446,-0.720,2018],[34.6454,-0.712,2018],[34.6462,-0.704,2018],[34.6470,-0.696,2018],[34.6478,-0.688,2018],[34.6486,-0.680,2019],[34.6494,-0.672,2018],[34.6474,-0.686,2019],[34.6458,-0.700,2019],[34.6450,-0.740,2018],[34.6458,-0.734,2017],[34.6466,-0.726,2018],[34.6474,-0.718,2017],[34.6482,-0.714,2018],[34.6490,-0.706,2017],[34.6444,-0.760,2017],[34.6436,-0.758,2018],[34.6428,-0.762,2017],
[34.6524,-0.629,2000],[34.6534,-0.627,2000],[34.6541,-0.633,2001],[34.6514,-0.647,2000],[34.6519,-0.655,2001],[34.6526,-0.643,2000],[34.6529,-0.659,2001],[34.6536,-0.651,2002],[34.6544,-0.643,2002],[34.6549,-0.631,2001],[34.6514,-0.667,2000],[34.6509,-0.678,2001],[34.6502,-0.674,2000],[34.6504,-0.690,2001],[34.6494,-0.698,2000],[34.6492,-0.706,2001],[34.6489,-0.722,2002],[34.6484,-0.730,2001],[34.6482,-0.738,2000],[34.6479,-0.750,2001],[34.6482,-0.762,2002],[34.6484,-0.769,2001],[34.6489,-0.777,2002],[34.6472,-0.730,2000],[34.6477,-0.746,2001],[34.6469,-0.750,2000],[34.6474,-0.769,2001],[34.6467,-0.777,2000],[34.6462,-0.793,2001],[34.6460,-0.805,2000],[34.6455,-0.809,2001],[34.6445,-0.809,2000],[34.6515,-0.773,2000],[34.6487,-0.789,2001],[34.6494,-0.754,2002],[34.6499,-0.746,2003],[34.6504,-0.730,2002],[34.6509,-0.714,2003],[34.6514,-0.702,2002],[34.6504,-0.766,2003],[34.6472,-0.789,2002],[34.6482,-0.793,2003],[34.6451,-0.811,2000],[34.6530,-0.635,2001],[34.6520,-0.648,2002],[34.6512,-0.660,2001],[34.6505,-0.668,2002],[34.6498,-0.690,2001],[34.6492,-0.714,2002],[34.6486,-0.726,2003],[34.6480,-0.742,2002],[34.6474,-0.760,2003],[34.6468,-0.772,2002],[34.6462,-0.780,2003],[34.6456,-0.795,2002],[34.6476,-0.784,2004],[34.6470,-0.795,2003],[34.6536,-0.640,2003],[34.6542,-0.625,2002],
[34.6559,-0.619,2004],[34.6556,-0.627,2005],[34.6554,-0.635,2006],[34.6551,-0.643,2004],[34.6549,-0.651,2005],[34.6546,-0.659,2006],[34.6544,-0.667,2005],[34.6539,-0.674,2006],[34.6536,-0.682,2005],[34.6534,-0.690,2006],[34.6529,-0.698,2005],[34.6524,-0.706,2006],[34.6519,-0.714,2005],[34.6514,-0.722,2006],[34.6509,-0.730,2004],[34.6504,-0.738,2005],[34.6499,-0.750,2006],[34.6494,-0.762,2005],[34.6489,-0.769,2004],[34.6554,-0.663,2006],[34.6561,-0.653,2006],[34.6561,-0.686,2006],[34.6544,-0.732,2006],[34.6526,-0.738,2006],[34.6521,-0.730,2007],[34.6517,-0.746,2006],[34.6531,-0.708,2006],[34.6539,-0.694,2007],[34.6544,-0.682,2006],[34.6549,-0.674,2005],[34.6534,-0.670,2004],[34.6529,-0.678,2005],[34.6524,-0.686,2004],[34.6519,-0.694,2005],[34.6514,-0.690,2006],[34.6509,-0.698,2005],[34.6504,-0.706,2006],[34.6499,-0.714,2004],[34.6494,-0.726,2005],[34.6489,-0.738,2006],[34.6484,-0.750,2005],[34.6479,-0.758,2006],[34.6472,-0.754,2006],[34.6467,-0.762,2007],[34.6462,-0.765,2006],[34.6450,-0.769,2006],[34.6519,-0.758,2007],[34.6539,-0.667,2007],[34.6541,-0.651,2004],[34.6531,-0.659,2005],[34.6526,-0.667,2006],[34.6504,-0.722,2007],[34.6499,-0.730,2008],[34.6539,-0.706,2006],[34.6549,-0.690,2006],[34.6544,-0.702,2005],[34.6554,-0.651,2003],[34.6514,-0.678,2006],[34.6524,-0.670,2006],[34.6534,-0.651,2005],[34.6539,-0.643,2006],[34.6546,-0.635,2005],[34.6554,-0.627,2003],[34.6519,-0.674,2007],[34.6509,-0.686,2006],[34.6526,-0.690,2007],[34.6536,-0.663,2006],[34.6511,-0.714,2008],[34.6506,-0.730,2006],[34.6484,-0.722,2003],[34.6478,-0.738,2003],[34.6474,-0.754,2004],[34.6469,-0.769,2005],[34.6467,-0.785,2004],[34.6460,-0.785,2003],[34.6450,-0.809,2006],[34.6544,-0.733,2005],
[34.6548,-0.640,2005],[34.6552,-0.645,2006],[34.6545,-0.650,2004],[34.6541,-0.660,2006],[34.6535,-0.665,2005],[34.6530,-0.672,2006],[34.6528,-0.683,2007],[34.6522,-0.690,2005],[34.6518,-0.700,2006],[34.6512,-0.708,2005],[34.6508,-0.718,2006],[34.6502,-0.726,2006],[34.6497,-0.737,2005],[34.6492,-0.745,2006],[34.6488,-0.755,2004],[34.6483,-0.762,2005],[34.6478,-0.772,2004],[34.6472,-0.780,2003],[34.6558,-0.632,2004],[34.6550,-0.658,2005],[34.6546,-0.668,2006],[34.6540,-0.678,2005],[34.6535,-0.700,2006],[34.6528,-0.708,2005],[34.6524,-0.718,2006],[34.6516,-0.728,2007],[34.6510,-0.740,2006],[34.6504,-0.750,2005],[34.6498,-0.758,2006],[34.6492,-0.766,2004]];

// ===================== CHART =====================
const svg = d3.select('#fig');
const defs = svg.append('defs');
const INK = '#262626';
const jet21 = ['#0000d4','#0000ff','#002aff','#0055ff','#0080ff','#00aaff','#00d4ff','#00ffff','#2affd4','#55ffaa','#80ff80','#aaff55','#d4ff2a','#ffff00','#ffd400','#ffaa00','#ff8000','#ff5500','#ff2a00','#ff0000','#d40000'];
const color = d3.scaleQuantize().domain([1999,2020]).range(jet21);
const instColor = {1:'#000000', 2:'#808080'};
const evColor = '#e6585f';
const trim = d => String(+d.toFixed(3));

// ---------- panel a ----------
const xA = d3.scaleLinear().domain([1999, 2019.47]).range([72, 807]);
const yS = d3.scaleLinear().domain([34.61, 34.65]).range([233, 16]);
const yT = d3.scaleLinear().domain([-1.1, -0.75]).range([466, 249]);

function grid(xs, ys, xt, yt, col) {
  const [x0,x1] = xs.range(), [y0,y1] = ys.range();
  const g = svg.append('g').attr('stroke', col).attr('stroke-width', 1);
  g.selectAll(null).data(xt).join('line').attr('x1', d=>xs(d)).attr('x2', d=>xs(d)).attr('y1', y1).attr('y2', y0);
  g.selectAll(null).data(yt).join('line').attr('x1', x0).attr('x2', x1).attr('y1', d=>ys(d)).attr('y2', d=>ys(d));
}
function frame(xs, ys, xt, yt, xfmt, yfmt, fs, sw, xpad) {
  const [x0,x1] = xs.range(), [y0,y1] = ys.range();
  const style = sel => { sel.select('.domain').remove();
    sel.selectAll('line').attr('stroke', INK).attr('stroke-width', sw);
    sel.selectAll('text').attr('fill', INK).attr('font-size', fs).attr('font-family','"Liberation Sans",Arial,sans-serif'); };
  svg.append('g').attr('transform',`translate(0,${y0})`).call(d3.axisBottom(xs).tickValues(xt).tickSize(-6).tickSizeOuter(0).tickPadding(xpad).tickFormat(xfmt||(()=> ''))).call(style);
  svg.append('g').attr('transform',`translate(0,${y1})`).call(d3.axisTop(xs).tickValues(xt).tickSize(-6).tickSizeOuter(0).tickFormat(()=> '')).call(style);
  svg.append('g').attr('transform',`translate(${x0},0)`).call(d3.axisLeft(ys).tickValues(yt).tickSize(-6).tickSizeOuter(0).tickPadding(5).tickFormat(yfmt||(()=> ''))).call(style);
  svg.append('g').attr('transform',`translate(${x1},0)`).call(d3.axisRight(ys).tickValues(yt).tickSize(-6).tickSizeOuter(0).tickFormat(()=> '')).call(style);
  svg.append('rect').attr('x', x0).attr('y', y1).attr('width', x1-x0).attr('height', y0-y1).attr('fill','none').attr('stroke', INK).attr('stroke-width', sw+0.3);
}

function series(ys, bands, smooths, segs, prefix) {
  const [y0,y1] = ys.range();
  const area = d3.area().x(d=>xA(d[0])).y0(d=>ys(d[2])).y1(d=>ys(d[1]));
  const order = segs.slice().sort((a,b)=>b[2]-a[2]);
  order.forEach((s,i) => {
    const id = prefix + i;
    defs.append('clipPath').attr('id', id).append('rect')
      .attr('x', xA(s[0]) - 0.5).attr('width', xA(s[1]) - xA(s[0]) + 1).attr('y', y1).attr('height', y0 - y1);
    const g = svg.append('g').attr('clip-path', `url(#${id})`);
    bands.forEach(b => g.append('path').attr('d', area(b)).attr('fill', instColor[s[2]]).attr('stroke', instColor[s[2]]).attr('stroke-width', 0.6).attr('stroke-linejoin','round'));
  });
  const line = d3.line().x(d=>xA(d[0])).y(d=>ys(d[1])).curve(d3.curveMonotoneX);
  smooths.forEach(s => svg.append('path').attr('d', line(s)).attr('fill','none').attr('stroke','#ffff00').attr('stroke-width',1.2));
}
function asterisks(ys, vals, col) {
  svg.selectAll(null).data(vals).join('path')
    .attr('transform', d => `translate(${xA(ctdYear)},${ys(d)})`)
    .attr('d','M-4.5,0H4.5M0,-4.5V4.5M-3.2,-3.2L3.2,3.2M-3.2,3.2L3.2,-3.2')
    .attr('stroke', col).attr('stroke-width', 1.6).attr('fill','none');
}
function events(xs, ys, list) {
  svg.selectAll(null).data(list).join('text')
    .attr('x', d => xs(d[1])).attr('y', d => ys(d[2]))
    .attr('text-anchor', d => d[0].length > 1 ? 'start' : 'middle')
    .attr('dominant-baseline','central')
    .attr('font-size', 22).attr('font-weight','bold').attr('fill', evColor)
    .text(d => d[0]);
}

grid(xA, yS, yearTicks, salTicks, '#d2d2d2');
series(yS, [salBand1, salBand2, salBand3], [salSmooth1, salSmooth2, salSmooth3], salSegments, 'cs');
asterisks(yS, ctdSalBlue, '#0000ff');
asterisks(yS, ctdSalRed, '#ff0000');
events(xA, yS, salEvents);
frame(xA, yS, yearTicks, salTicks, null, d => d.toFixed(2), 13.5, 1, 8);

grid(xA, yT, yearTicks, tmpTicks, '#d2d2d2');
series(yT, [tmpBand1, tmpBand2, tmpBand3], [tmpSmooth1, tmpSmooth2, tmpSmooth3], tmpSegments, 'ct');
asterisks(yT, ctdTmpBlue, '#0000ff');
asterisks(yT, ctdTmpRed, '#ff0000');
events(xA, yT, tmpEvents);
frame(xA, yT, yearTicks, tmpTicks, d => String(d), trim, 13.5, 1, 8);

svg.append('text').attr('x', 80).attr('y', 36.5).attr('font-size', 22).attr('font-weight','bold').attr('fill','#000').text('a');
svg.append('text').attr('transform','translate(27,120) rotate(-90)').attr('text-anchor','middle').attr('font-size',15).attr('fill',INK).text('SALINITY');
svg.append('text').attr('transform','translate(27,358) rotate(-90)').attr('text-anchor','middle').attr('font-size',15).attr('fill',INK).text('POTENTIAL TEMPERATURE (\u00B0C)');

// ---------- panel b ----------
const xB = d3.scaleLinear().domain([34.61, 34.66]).range([75, 745]);
const yB = d3.scaleLinear().domain([-1.2, -0.5]).range([1122, 531]);
defs.append('clipPath').attr('id','clipB').append('rect').attr('x',75).attr('y',531).attr('width',670).attr('height',591);
grid(xB, yB, tsSalTicks, tsTmpTicks, '#b4b4b4');

const gP = svg.append('g').attr('clip-path','url(#clipB)');
gP.selectAll(null).data(circlePts.slice().sort((a,b)=>a[2]-b[2])).join('circle')
  .attr('cx', d=>xB(d[0])).attr('cy', d=>yB(d[1])).attr('r', 2.4)
  .attr('fill','none').attr('stroke', d=>color(d[2])).attr('stroke-width', 1.2);
gP.selectAll(null).data(plusPts.slice().sort((a,b)=>a[2]-b[2])).join('path')
  .attr('transform', d=>`translate(${xB(d[0])},${yB(d[1])})`)
  .attr('d','M-4.3,0H4.3M0,-4.3V4.3').attr('stroke', d=>color(d[2])).attr('stroke-width', 1.9);

const gL = svg.append('g').attr('clip-path','url(#clipB)');
const cline = d3.line().x(d=>xB(d[0])).y(d=>yB(d[1])).curve(d3.curveMonotoneX);
sigma0Lines.forEach(p => gL.append('path').attr('d', cline(p)).attr('fill','none').attr('stroke','#000').attr('stroke-width',1));
sigma2Lines.forEach(p => gL.append('path').attr('d', cline(p)).attr('fill','none').attr('stroke','#000').attr('stroke-width',1).attr('stroke-dasharray','10,6'));
function clabels(lines, pos, levels) {
  pos.forEach((p,i) => {
    const pts = lines[i];
    let j = 0; while (j < pts.length-2 && pts[j+1][0] < p[0]) j++;
    const dx = xB(pts[j+1][0]) - xB(pts[j][0]), dy = yB(pts[j+1][1]) - yB(pts[j][1]);
    const ang = Math.atan2(dy, dx) * 180 / Math.PI;
    gL.append('text').attr('transform', `translate(${xB(p[0])},${yB(p[1])}) rotate(${ang})`)
      .attr('text-anchor','middle').attr('dominant-baseline','central').attr('font-size',11.5)
      .attr('fill','#000').attr('stroke','#fff').attr('stroke-width',5).attr('paint-order','stroke')
      .text(levels[i]);
  });
}
clabels(sigma0Lines, sigma0LabelAt, sigma0Levels);
clabels(sigma2Lines, sigma2LabelAt, sigma2Levels);
svg.selectAll(null).data(tsEvents).join('text')
  .attr('x', d=>xB(d[1])).attr('y', d=>yB(d[2]))
  .attr('text-anchor', d => d[0].length > 1 ? 'start' : 'middle').attr('dominant-baseline','central')
  .attr('font-size', 21).attr('font-weight','bold').attr('fill', evColor).text(d=>d[0]);
frame(xB, yB, tsSalTicks, tsTmpTicks, trim, trim, 14, 1.5, 10);
svg.append('text').attr('x', 97).attr('y', 581).attr('font-size', 24).attr('font-weight','bold').attr('fill','#000').text('b');
svg.append('text').attr('x', 413).attr('y', 1170).attr('text-anchor','middle').attr('font-size',15).attr('fill',INK).text('SALINITY');
svg.append('text').attr('transform','translate(27,780) rotate(-90)').attr('text-anchor','middle').attr('font-size',15).attr('fill',INK).text('POTENTIAL TEMPERATURE (\u00B0C)');

// ---------- colorbar ----------
const yC = d3.scaleLinear().domain([1999, 2020]).range([1122, 531]);
const cbx = 779, cbw = 26;
svg.selectAll(null).data(cbYears).join('rect')
  .attr('x', cbx).attr('width', cbw).attr('y', d=>yC(d+1)).attr('height', d=>yC(d)-yC(d+1)+0.5)
  .attr('fill', d=>color(d));
svg.append('g').attr('transform',`translate(${cbx+cbw},0)`)
  .call(d3.axisRight(yC).tickValues(cbTicks).tickSize(-5).tickSizeOuter(0).tickPadding(6).tickFormat(d=>String(d)))
  .call(sel => { sel.select('.domain').remove(); sel.selectAll('line').attr('stroke',INK).attr('stroke-width',1.5);
    sel.selectAll('text').attr('fill',INK).attr('font-size',16).attr('font-family','"Liberation Sans",Arial,sans-serif'); });
svg.append('rect').attr('x', cbx).attr('y', 531).attr('width', cbw).attr('height', 591).attr('fill','none').attr('stroke', INK).attr('stroke-width', 1.8);
</script>
</body></html>
